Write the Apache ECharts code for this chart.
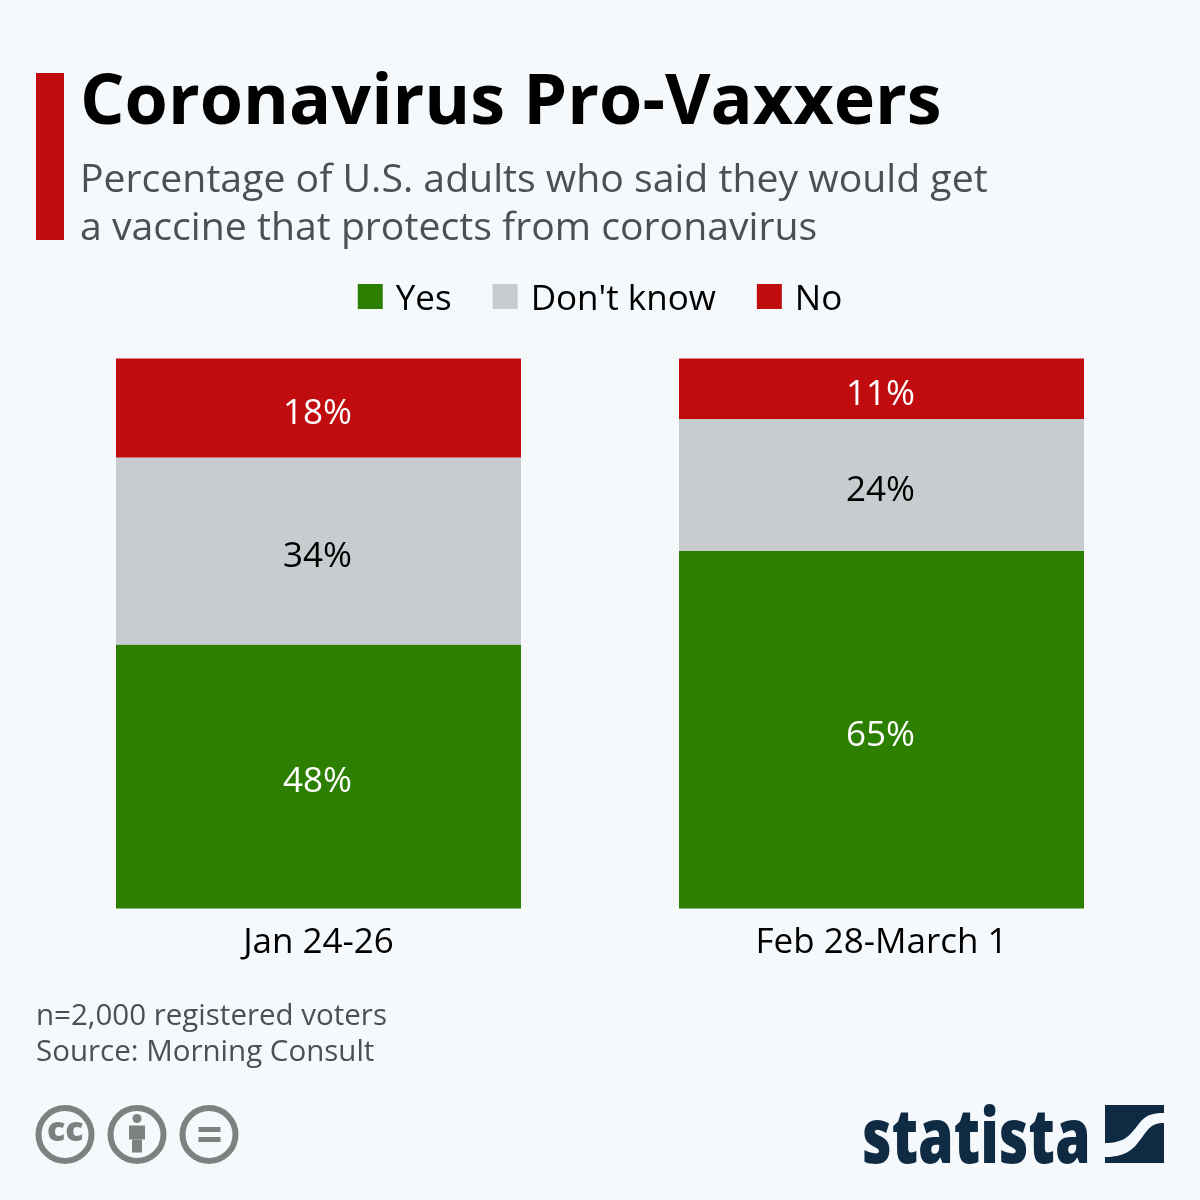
<!DOCTYPE html>
<html><head><meta charset="utf-8">
<style>html,body{margin:0;padding:0;background:#f5f9fc}#c{width:1200px;height:1200px}</style>
<script src="https://cdn.jsdelivr.net/npm/echarts@6/dist/echarts.min.js"></script></head>
<body><div id="c"></div>
<script>
const categories = ['Jan 24-26', 'Feb 28-March 1'];
const yes = [48, 65];
const dontKnow = [34, 24];
const no = [18, 11];
const titleText = 'Coronavirus Pro-Vaxxers';
const subtitleLines = ['Percentage of U.S. adults who said they would get', 'a vaccine that protects from coronavirus'];
const noteLines = ['n=2,000 registered voters', 'Source: Morning Consult'];
const font = '"Open Sans"';
echarts.graphic.registerShape('logoS', echarts.graphic.extendPath('M1105 1143 C1125 1143 1130 1135 1138 1125 C1145 1115 1152 1113 1164 1113 L1164 1123 C1150 1123 1148 1130 1140 1140 C1133 1150 1125 1157 1105 1157 Z', {}));
const chart = echarts.init(document.getElementById('c'), null, {renderer:'canvas'});
const lab = c => ({show:true, position:'inside', color:c, fontFamily:font, fontSize:35, offset:[-1,6], formatter:p=>p.value+'%'});
const grey = '#7d8180';
function ccIcon(x, inner){
  return {type:'group', x:x, y:1134.5, children:[
    {type:'circle', shape:{cx:0,cy:0,r:26.5}, style:{fill:'none',stroke:grey,lineWidth:6}}
  ].concat(inner)};
}
chart.setOption({
  backgroundColor:'#f5f9fc',
  animation:false,
  grid:{left:37, right:37, top:358.5, height:550},
  legend:{top:277.5, left:'center', itemWidth:25, itemHeight:25, itemGap:41,
    icon:'rect', formatter:n=>'{a|'+n+'}',
    textStyle:{rich:{a:{fontFamily:font, fontSize:35, color:'#000', padding:[7,0,0,8]}}},
    data:['Yes',"Don't know",'No']},
  xAxis:{type:'category', data:categories, axisLine:{show:false}, axisTick:{show:false},
    axisLabel:{fontFamily:font, fontSize:35, color:'#000', margin:17}},
  yAxis:{type:'value', min:0, max:100, show:false},
  series:[
    {name:'Yes', type:'bar', stack:'a', data:yes, barWidth:405, itemStyle:{color:'#2c7f00'}, label:lab('#fff')},
    {name:"Don't know", type:'bar', stack:'a', data:dontKnow, barWidth:405, itemStyle:{color:'#c7ccce'}, label:lab('#000')},
    {name:'No', type:'bar', stack:'a', data:no, barWidth:405, itemStyle:{color:'#c00c0e'}, label:lab('#fff')}
  ],
  graphic:[
    {type:'rect', shape:{x:36,y:73,width:28,height:167}, style:{fill:'#c00c0e'}},
    {type:'text', x:80, y:69.5, style:{text:titleText, fontFamily:font, fontWeight:700, fontSize:70, fill:'#000'}},
    {type:'text', x:80, y:161, style:{text:subtitleLines[0], fontFamily:font, fontSize:39.2, fill:'#4a5055'}},
    {type:'text', x:80, y:209, style:{text:subtitleLines[1], fontFamily:font, fontSize:39.2, fill:'#4a5055'}},
    {type:'text', x:36, y:1002, style:{text:noteLines[0], fontFamily:font, fontSize:29.5, fill:'#4a5055'}},
    {type:'text', x:36, y:1038, style:{text:noteLines[1], fontFamily:font, fontSize:29.5, fill:'#4a5055'}},
    ccIcon(65, [{type:'text', x:-18, y:-20, style:{text:'cc', fontFamily:font, fontWeight:800, fontSize:34, fill:grey}}]),
    ccIcon(137, [
      {type:'circle', shape:{cx:0,cy:-16,r:4.5}, style:{fill:grey}},
      {type:'rect', shape:{x:-8,y:-9,width:16,height:14}, style:{fill:grey}},
      {type:'rect', shape:{x:-5,y:5,width:10,height:13}, style:{fill:grey}}
    ]),
    ccIcon(209, [
      {type:'rect', shape:{x:-10.5,y:-7.5,width:22,height:5}, style:{fill:grey}},
      {type:'rect', shape:{x:-10.5,y:2.5,width:22,height:5}, style:{fill:grey}}
    ]),
    {type:'text', x:862, y:1103, scaleX:0.755, style:{text:'statista', fontFamily:font, fontWeight:800, fontSize:76, fill:'#0f2a43'}},
    {type:'rect', shape:{x:1105,y:1105,width:59,height:58}, style:{fill:'#0f2a43'}},
    {type:'logoS', style:{fill:'#f5f9fc'}}
  ]
});
</script></body></html>
